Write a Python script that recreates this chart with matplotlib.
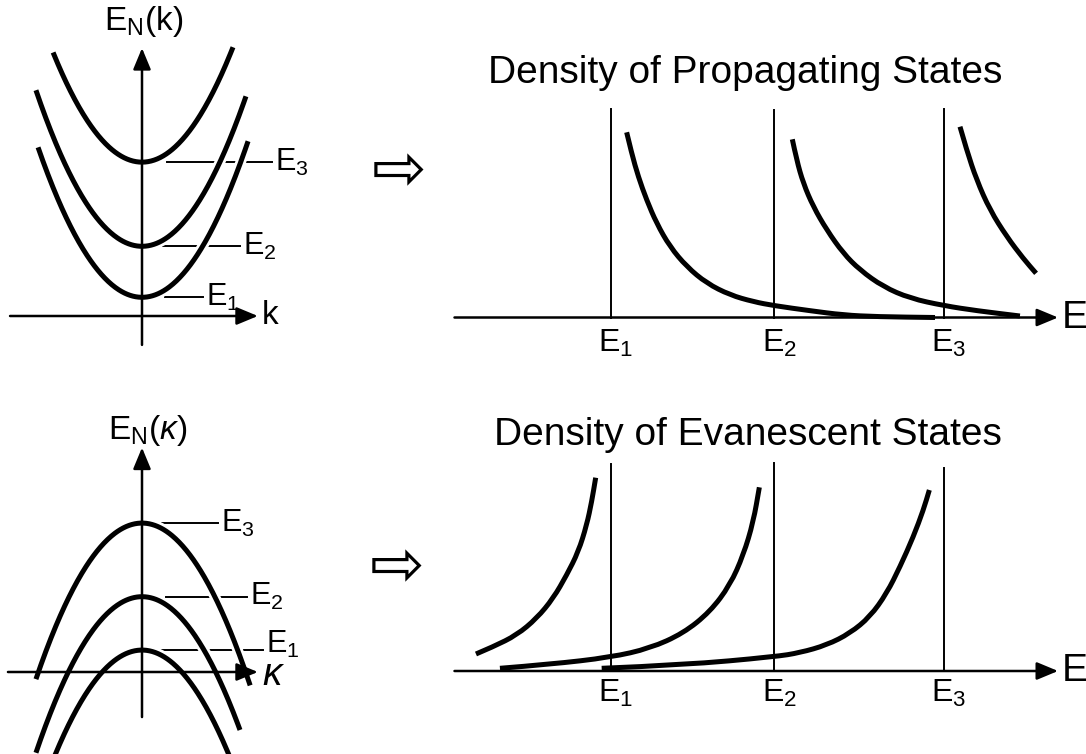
import numpy as np
import matplotlib
matplotlib.use("Agg")
import matplotlib.pyplot as plt
import matplotlib.patheffects as pe
from matplotlib.path import Path
from matplotlib.patches import PathPatch

plt.rcParams['font.family'] = ['Liberation Sans', 'DejaVu Sans']
plt.rcParams['mathtext.fontset'] = 'custom'
plt.rcParams['mathtext.rm'] = 'Liberation Sans'
plt.rcParams['mathtext.it'] = 'Liberation Sans:italic'

W, H = 1086, 754

# --- band energies (left panels), energy units, k in reduced units ---
E_prop = [1.1, 4.1, 9.05]          # band minima of E_N(k)
k_prop_left = [-2.97, -3.03, -2.54]
k_prop_right = [3.03, 2.97, 2.60]
E_evan = [1.29, 4.43, 8.76]        # band maxima of E_N(kappa)
k_evan_left = [-2.54, -3.03, -3.03]
k_evan_right = [2.51, 2.80, 3.09]

# leader lines to the E_n labels
lead_prop_start = [0.66, 0.60, 0.71]
lead_prop_end = [1.74, 2.80, 3.71]
lead_evan_start = [0.51, 0.69, 0.57]
lead_evan_end = [3.46, 3.00, 2.17]
lead_evan_label_dy = [0.35, 0.0, 0.0]

level_names = [r'$\mathrm{E_1}$', r'$\mathrm{E_2}$', r'$\mathrm{E_3}$']

# --- density of states (right panels) ---
E_edges = [1.0, 1.98, 3.0]
prop_line_top = [2.09, 2.08, 2.09]
evan_line_top = [2.07, 2.08, 2.03]

prop1_E = [1.094, 1.124, 1.164, 1.214, 1.274, 1.354, 1.455, 1.575, 1.715, 1.855,
           1.981, 2.195, 2.395, 2.596, 2.946]
prop1_D = [1.852, 1.642, 1.408, 1.175, 0.942, 0.708, 0.508, 0.342, 0.225, 0.158,
           0.118, 0.068, 0.025, 0.008, 0.0]
prop2_E = [2.089, 2.115, 2.155, 2.215, 2.296, 2.395, 2.495, 2.635, 2.796, 3.0,
           3.196, 3.456]
prop2_D = [1.782, 1.575, 1.342, 1.108, 0.875, 0.642, 0.475, 0.308, 0.192, 0.118,
           0.068, 0.015]
prop3_E = [3.096, 3.136, 3.196, 3.276, 3.377, 3.476, 3.553]
prop3_D = [1.908, 1.675, 1.375, 1.075, 0.808, 0.59, 0.442]

evan1_E = [0.189, 0.293, 0.434, 0.554, 0.653, 0.734, 0.804, 0.854, 0.884, 0.908]
evan1_D = [0.17, 0.243, 0.36, 0.527, 0.727, 0.96, 1.193, 1.46, 1.693, 1.933]
evan2_E = [0.333, 0.634, 0.998, 1.234, 1.434, 1.595, 1.715, 1.795, 1.855, 1.891]
evan2_D = [0.027, 0.067, 0.137, 0.227, 0.377, 0.593, 0.86, 1.16, 1.493, 1.837]
evan3_E = [0.944, 1.434, 1.985, 2.135, 2.296, 2.435, 2.556, 2.656, 2.736, 2.816,
           2.876, 2.912]
evan3_D = [0.027, 0.06, 0.143, 0.183, 0.26, 0.377, 0.543, 0.777, 1.043, 1.343,
           1.61, 1.81]

CURVE_LW = 3.6
AXIS_LW = 1.8
THIN_LW = 1.4
halo = [pe.withStroke(linewidth=CURVE_LW + 4, foreground='white')]


def panel(fig, box, origin, scale):
    """Axes over a pixel box whose data origin/scale map to fixed pixels."""
    l, t, w, h = box
    x0, y0 = origin
    sx, sy = scale
    ax = fig.add_axes([l / W, 1 - (t + h) / H, w / W, h / H])
    ax.set_xlim((l - x0) / sx, (l + w - x0) / sx)
    ax.set_ylim((y0 - (t + h)) / sy, (y0 - t) / sy)
    ax.axis('off')
    return ax


def arrow_axis(ax, start, tip):
    ax.annotate('', xy=tip, xytext=start,
                arrowprops=dict(arrowstyle='-|>,head_length=0.65,head_width=0.27',
                                mutation_scale=20, lw=AXIS_LW, color='black',
                                shrinkA=0, shrinkB=0),
                zorder=5)


def smooth_curve(ax, xs, ys):
    # quadratic Bezier through the midpoints, using the points as controls
    pts = np.column_stack([xs, ys])
    verts = [pts[0]]
    codes = [Path.MOVETO]
    for i in range(1, len(pts) - 1):
        mid = (pts[i] + pts[i + 1]) / 2
        verts += [pts[i], mid]
        codes += [Path.CURVE3, Path.CURVE3]
    verts.append(pts[-1])
    codes.append(Path.LINETO)
    ax.add_patch(PathPatch(Path(verts, codes), fill=False, lw=CURVE_LW,
                           edgecolor='black', joinstyle='round',
                           capstyle='butt', zorder=3))


fig = plt.figure(figsize=(W / 100, H / 100), dpi=100)
fig.patch.set_facecolor('white')

# ---------- E_N(k): propagating bands ----------
ax = panel(fig, (0, 0, 330, 380), (142, 316), (35, 17))
arrow_axis(ax, (-3.77, 0), (3.31, 0))
arrow_axis(ax, (0, -1.7), (0, 15.76))
for En, kl, kr, ls, le, name in zip(E_prop, k_prop_left, k_prop_right,
                                    lead_prop_start, lead_prop_end, level_names):
    k = np.linspace(kl, kr, 300)
    ax.plot(k, En + k ** 2, color='black', lw=CURVE_LW, solid_capstyle='butt',
            path_effects=halo, zorder=3)
    ax.plot([ls, le], [En, En], color='black', lw=THIN_LW, zorder=1)
    ax.text(le + 0.08, En, name, fontsize=22, ha='left', va='center')
ax.text(0.06, 17.3, r'$\mathrm{E_N(k)}$', fontsize=24, ha='center', va='center')
ax.text(3.43, 0, 'k', fontsize=24, ha='left', va='center')

# ---------- E_N(kappa): evanescent bands ----------
ax = panel(fig, (0, 380, 330, 374), (142, 672), (35, 17))
arrow_axis(ax, (-3.83, 0), (3.31, 0))
arrow_axis(ax, (0, -2.65), (0, 13.2))
for En, kl, kr, ls, le, name, dy in zip(E_evan, k_evan_left, k_evan_right,
                                        lead_evan_start, lead_evan_end,
                                        level_names, lead_evan_label_dy):
    k = np.linspace(kl, kr, 300)
    ax.plot(k, En - k ** 2, color='black', lw=CURVE_LW, solid_capstyle='butt',
            path_effects=halo, zorder=3)
    ax.plot([ls, le], [En, En], color='black', lw=THIN_LW, zorder=1)
    ax.text(le + 0.08, En + dy, name, fontsize=22, ha='left', va='center')
ax.text(0.17, 14.2, r'$\mathrm{E_N(}\kappa\mathrm{)}$', fontsize=24,
        ha='center', va='center')
ax.text(3.43, -0.2, 'κ', fontsize=28, style='italic', ha='left', va='center')

# ---------- density of propagating states ----------
ax = panel(fig, (440, 30, 646, 350), (444.5, 317.5), (166.5, 100))
arrow_axis(ax, (0.06, 0), (3.685, 0))
for x, top, name in zip(E_edges, prop_line_top, level_names):
    ax.plot([x, x], [0, top], color='black', lw=THIN_LW, zorder=2)
    ax.text(x + 0.03, -0.1, name, fontsize=23, ha='center', va='top')
for xs, ys in [(prop1_E, prop1_D), (prop2_E, prop2_D), (prop3_E, prop3_D)]:
    smooth_curve(ax, xs, ys)
ax.text(3.709, 0, 'E', fontsize=28, ha='left', va='center')
ax.text(1.805, 2.345, 'Density of Propagating States', fontsize=28,
        ha='center', va='baseline')

# ---------- density of evanescent states ----------
ax = panel(fig, (440, 390, 646, 364), (444.5, 671), (166.5, 100))
arrow_axis(ax, (0.06, 0), (3.685, 0))
for x, top, name in zip(E_edges, evan_line_top, level_names):
    ax.plot([x, x], [0, top], color='black', lw=THIN_LW, zorder=2)
    ax.text(x + 0.03, -0.07, name, fontsize=23, ha='center', va='top')
for xs, ys in [(evan1_E, evan1_D), (evan2_E, evan2_D), (evan3_E, evan3_D)]:
    smooth_curve(ax, xs, ys)
ax.text(3.709, 0, 'E', fontsize=28, ha='left', va='center')
ax.text(1.823, 2.26, 'Density of Evanescent States', fontsize=28,
        ha='center', va='baseline')

# hollow arrows between the panels
fig.text(399 / W, 1 - 172 / H, '⇨', fontsize=47, ha='center', va='center',
         family='DejaVu Sans')
fig.text(397 / W, 1 - 568 / H, '⇨', fontsize=47, ha='center', va='center',
         family='DejaVu Sans')

fig.savefig('out.png', dpi=100, facecolor='white')
